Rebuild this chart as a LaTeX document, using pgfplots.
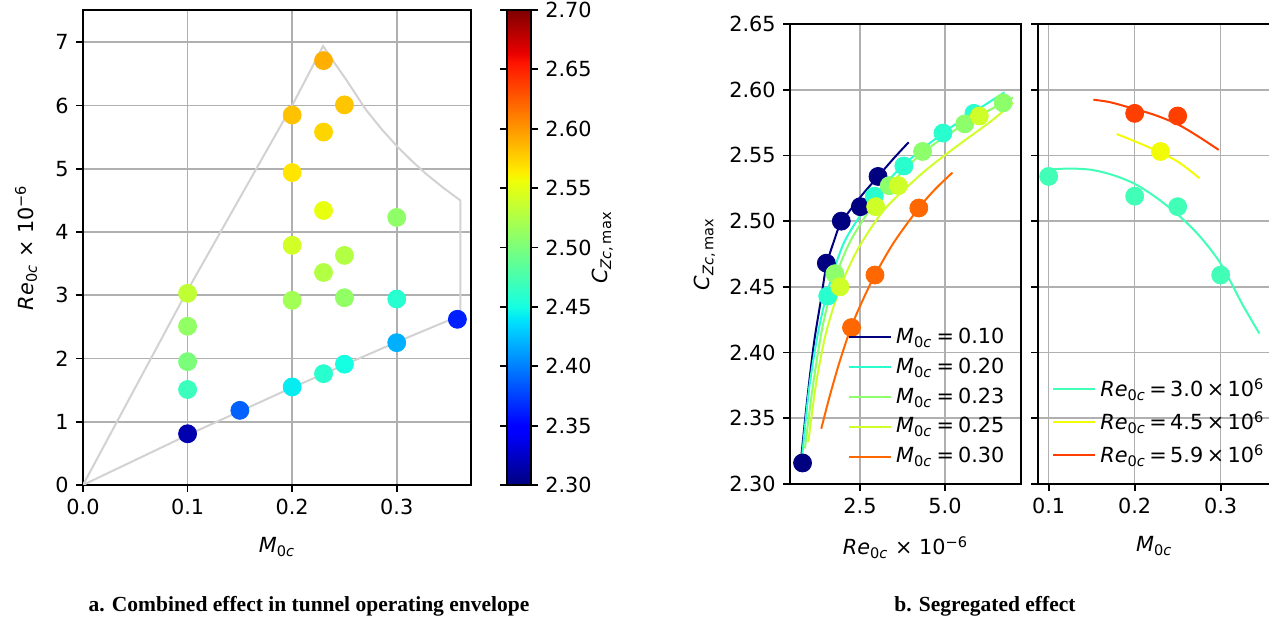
\documentclass[border=0pt]{standalone}
\usepackage{pgfplots}
\pgfplotsset{compat=1.18}
\usepackage{pgfplotstable}
\usepackage{fontspec}
\setmainfont{DejaVu Sans}
\newfontfamily\capfont{Liberation Serif}

\definecolor{gridgray}{RGB}{176,176,176}
\definecolor{envgray}{RGB}{210,210,210}
\definecolor{mA}{RGB}{0,0,128}
\definecolor{mB}{RGB}{41,255,206}
\definecolor{mC}{RGB}{140,255,107}
\definecolor{mD}{RGB}{206,255,41}
\definecolor{mE}{RGB}{255,104,0}
\definecolor{rA}{RGB}{65,255,182}
\definecolor{rB}{RGB}{241,252,6}
\definecolor{rC}{RGB}{255,63,0}

\newcommand{\Moc}{\textit{M}\textsubscript{0\textit{c}}}
\newcommand{\Reoc}{\textit{Re}\textsubscript{0\textit{c}}}
\newcommand{\Czc}{\textit{C}\textsubscript{\textit{Zc},\,max}}
\newcommand{\eqsp}{\hspace{0.2em}}

% measured points: Mach number, Reynolds number (x 1e-6), max lift coefficient
\pgfplotstableread{
M Re C
0.10 0.81 2.316
0.10 1.51 2.468
0.10 1.95 2.500
0.10 2.51 2.511
0.10 3.03 2.534
}\ptsA
\pgfplotstableread{
M Re C
0.20 1.55 2.443
0.20 2.92 2.519
0.20 3.79 2.542
0.20 4.94 2.567
0.20 5.85 2.582
}\ptsB
\pgfplotstableread{
M Re C
0.23 1.76 2.460
0.23 3.36 2.527
0.23 4.34 2.553
0.23 5.58 2.574
0.23 6.71 2.590
}\ptsC
\pgfplotstableread{
M Re C
0.25 1.91 2.450
0.25 2.96 2.511
0.25 3.63 2.527
0.25 6.01 2.580
}\ptsD
\pgfplotstableread{
M Re C
0.30 2.25 2.419
0.30 2.94 2.459
0.30 4.23 2.510
}\ptsE
\pgfplotstableread{
M Re C
0.15 1.18 2.388
0.358 2.62 2.362
}\ptsX

% tunnel operating envelope
\pgfplotstableread{
M Re
0 0
0.1 3.08
0.2 6.0
0.2296 6.94
0.2406 6.67
0.2516 6.41
0.2611 6.17
0.2707 5.93
0.2853 5.63
0.3000 5.36
0.3140 5.13
0.3280 4.92
0.3444 4.70
0.3608 4.50
0.3608 2.68
0.3 2.26
0.2 1.54
0.1 0.79
0 0
}\envelope

\pgfplotsset{
  /pgf/number format/assume math mode=true,
  colormap={mpljet}{rgb(0pt)=(0,0,0.5); rgb(110pt)=(0,0,1); rgb(125pt)=(0,0,1);
    rgb(340pt)=(0,0.86,1); rgb(350pt)=(0,0.9,0.9677); rgb(375pt)=(0.0806,1,0.887);
    rgb(640pt)=(0.9355,1,0.0323); rgb(650pt)=(0.9677,0.963,0); rgb(660pt)=(1,0.926,0);
    rgb(890pt)=(1,0.074,0); rgb(910pt)=(0.909,0,0); rgb(1000pt)=(0.5,0,0)},
  panel/.style={
    scale only axis,
    axis line style={black, line width=0.9pt},
    tick align=outside,
    tick pos=left,
    major tick length=3.5pt,
    tick style={black, line width=0.9pt},
    grid=major,
    major grid style={gridgray, line width=0.8pt},
    xlabel style={yshift=-4pt},
  },
  pts/.style={only marks, mark=*, mark size=4.5pt, forget plot},
  crv/.style={line width=1pt, smooth},
  jetpts/.style={scatter, only marks, mark=*, mark size=4.5pt,
    scatter/use mapped color={draw=mapped color, fill=mapped color},
    point meta=\thisrow{C}},
  legend image code/.code={\draw[#1] (0pt,0pt) -- (17.5pt,0pt); \path (0pt,0pt) -- (21pt,0pt);},
}

\begin{document}
\fontsize{10.4pt}{12.5pt}\selectfont
\begin{tikzpicture}

% a. combined effect
\begin{axis}[panel,
  at={(41.5pt,67pt)}, anchor=south west,
  width=194pt, height=237.5pt,
  xmin=0, xmax=0.371, ymin=0, ymax=7.51,
  xtick={0,0.1,0.2,0.3}, ytick={0,1,2,3,4,5,6,7},
  xticklabel style={/pgf/number format/.cd, fixed, fixed zerofill, precision=1},
  xlabel={\Moc},
  ylabel={\Reoc\ × 10\textsuperscript{−6}},
  ylabel shift=2pt,
  colormap name=mpljet,
  point meta min=2.3, point meta max=2.7,
  colorbar,
  colorbar style={
    at={(parent axis.north east)}, anchor=north west, xshift=9.5pt,
    width=12pt,
    axis line style={black, line width=0.9pt},
    tick align=outside, major tick length=3.5pt,
    tick style={black, line width=0.9pt},
    ytick={2.30,2.35,2.40,2.45,2.50,2.55,2.60,2.65,2.70},
    yticklabel style={/pgf/number format/.cd, fixed, fixed zerofill, precision=2},
    ylabel={\Czc},
    ylabel shift=-7pt,
  },
]
\addplot[envgray, line width=1pt, forget plot] table[x=M, y=Re] {\envelope};
\addplot[jetpts] table[x=M, y=Re] {\ptsA};
\addplot[jetpts] table[x=M, y=Re] {\ptsB};
\addplot[jetpts] table[x=M, y=Re] {\ptsC};
\addplot[jetpts] table[x=M, y=Re] {\ptsD};
\addplot[jetpts] table[x=M, y=Re] {\ptsE};
\addplot[jetpts] table[x=M, y=Re] {\ptsX};
\end{axis}

% b. effect of Reynolds number
\begin{axis}[panel,
  at={(395pt,67.5pt)}, anchor=south west,
  width=115.5pt, height=230pt,
  xmin=0.441, xmax=7.235, ymin=2.30, ymax=2.65,
  xtick={2.5,5.0},
  ytick={2.30,2.35,2.40,2.45,2.50,2.55,2.60,2.65},
  xticklabel style={/pgf/number format/.cd, fixed, fixed zerofill, precision=1},
  yticklabel style={/pgf/number format/.cd, fixed, fixed zerofill, precision=2},
  xlabel={\Reoc\ × 10\textsuperscript{−6}},
  ylabel={\Czc},
  legend style={draw=none, fill=none, at={(0.25,0.03)}, anchor=south west,
    inner sep=0pt, row sep=1.6pt, cells={anchor=west}},
]
\addplot[mA, crv] coordinates {(0.77,2.320) (0.95,2.365) (1.15,2.408) (1.35,2.440) (1.51,2.466) (1.75,2.486) (1.95,2.499) (2.5,2.518) (3.03,2.534) (3.5,2.548) (3.93,2.560)};
\addlegendentry{\Moc\eqsp=\eqsp0.10}
\addplot[mA, pts] table[x=Re, y=C] {\ptsA};
\addplot[mB, crv] coordinates {(0.80,2.322) (1.0,2.372) (1.25,2.413) (1.55,2.447) (2.0,2.482) (2.5,2.504) (2.92,2.519) (3.79,2.543) (4.94,2.567) (5.85,2.583) (6.75,2.598)};
\addlegendentry{\Moc\eqsp=\eqsp0.20}
\addplot[mB, pts] table[x=Re, y=C] {\ptsB};
\addplot[mC, crv] coordinates {(0.88,2.327) (1.1,2.372) (1.4,2.420) (1.76,2.456) (2.2,2.484) (2.8,2.509) (3.36,2.527) (4.34,2.552) (5.58,2.574) (6.71,2.590) (7.0,2.594)};
\addlegendentry{\Moc\eqsp=\eqsp0.23}
\addplot[mC, pts] table[x=Re, y=C] {\ptsC};
\addplot[mD, crv] coordinates {(0.98,2.332) (1.2,2.375) (1.5,2.415) (1.91,2.449) (2.4,2.477) (2.96,2.500) (3.4,2.514) (4.4,2.538) (5.4,2.558) (6.35,2.576) (7.0,2.590)};
\addlegendentry{\Moc\eqsp=\eqsp0.25}
\addplot[mD, pts] table[x=Re, y=C] {\ptsD};
\addplot[mE, crv] coordinates {(1.36,2.342) (1.6,2.366) (1.9,2.393) (2.25,2.420) (2.6,2.441) (2.94,2.459) (3.5,2.484) (4.23,2.510) (4.7,2.524) (5.22,2.537)};
\addlegendentry{\Moc\eqsp=\eqsp0.30}
\addplot[mE, pts] table[x=Re, y=C] {\ptsE};
\end{axis}

% b. effect of Mach number
\begin{axis}[panel,
  at={(519pt,67.5pt)}, anchor=south west,
  width=116.27pt, height=230pt,
  xmin=0.0876, xmax=0.358, ymin=2.30, ymax=2.65,
  xtick={0.1,0.2,0.3},
  ytick={2.30,2.35,2.40,2.45,2.50,2.55,2.60,2.65},
  yticklabels={},
  xticklabel style={/pgf/number format/.cd, fixed, fixed zerofill, precision=1},
  xlabel={\Moc},
  legend style={draw=none, fill=none, at={(0.06,0.03)}, anchor=south west,
    inner sep=0pt, row sep=2pt, cells={anchor=west}},
]
\addplot[rA, crv] coordinates {(0.100,2.5393) (0.125,2.540) (0.150,2.539) (0.175,2.535) (0.200,2.5284) (0.225,2.518) (0.250,2.505) (0.275,2.489) (0.300,2.4677) (0.325,2.437) (0.345,2.4145)};
\addlegendentry{\Reoc\,=\,3.0\,×\,10\textsuperscript{6}}
\addplot[rA, pts] coordinates {(0.1,2.534) (0.2,2.519) (0.25,2.511) (0.3,2.459)};
\addplot[rB, crv] coordinates {(0.179,2.5663) (0.203,2.560) (0.229,2.5525) (0.252,2.5445) (0.2753,2.5327)};
\addlegendentry{\Reoc\,=\,4.5\,×\,10\textsuperscript{6}}
\addplot[rB, pts] coordinates {(0.23,2.553)};
\addplot[rC, crv] coordinates {(0.152,2.5924) (0.172,2.5904) (0.200,2.5853) (0.2224,2.581) (0.249,2.574) (0.2726,2.565) (0.2977,2.5542)};
\addlegendentry{\Reoc\,=\,5.9\,×\,10\textsuperscript{6}}
\addplot[rC, pts] coordinates {(0.2,2.582) (0.25,2.580)};
\end{axis}

\node[font=\capfont\fontsize{10.75pt}{13pt}\selectfont\bfseries] at (154.5pt,6.5pt) {a. Combined effect in tunnel operating envelope};
\node[font=\capfont\fontsize{10.75pt}{13pt}\selectfont\bfseries] at (492.5pt,6.5pt) {b. Segregated effect};

\pgfresetboundingbox
\path[use as bounding box] (0pt,0pt) rectangle (634.5pt,309.5pt);
\end{tikzpicture}
\end{document}
